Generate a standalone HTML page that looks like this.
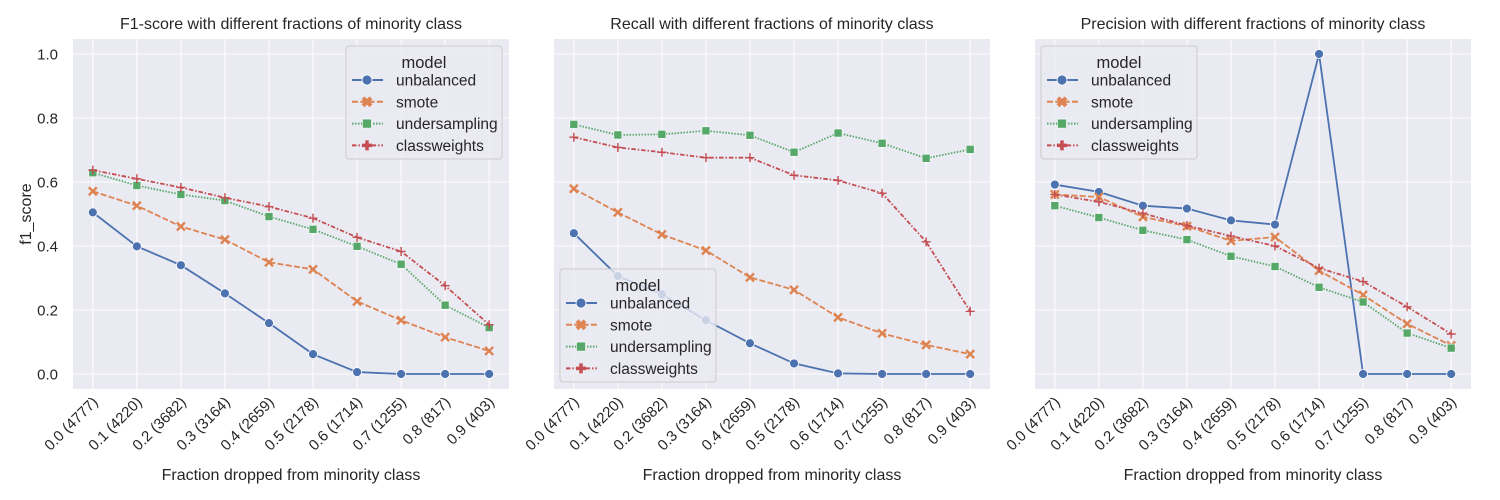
<!DOCTYPE html>
<html><head><meta charset="utf-8"><style>
body{margin:0;background:#fff;}
svg{display:block;font-family:"Liberation Sans","DejaVu Sans",sans-serif;}
</style></head><body>
<svg id="fig" width="1500" height="500" viewBox="0 0 1500 500" xmlns="http://www.w3.org/2000/svg"></svg>
<script>
const categories=["0.0 (4777)","0.1 (4220)","0.2 (3682)","0.3 (3164)","0.4 (2659)","0.5 (2178)","0.6 (1714)","0.7 (1255)","0.8 (817)","0.9 (403)"];
const yTicks=[0.0,0.2,0.4,0.6,0.8,1.0];
const modelNames=["unbalanced","smote","undersampling","classweights"];
const f1Unbalanced=[0.505,0.399,0.34,0.252,0.159,0.062,0.006,0,0,0];
const f1Smote=[0.571,0.526,0.461,0.42,0.349,0.327,0.227,0.168,0.115,0.072];
const f1Under=[0.629,0.589,0.561,0.542,0.492,0.452,0.399,0.343,0.215,0.145];
const f1Class=[0.637,0.61,0.583,0.551,0.523,0.487,0.427,0.383,0.276,0.154];
const recUnbalanced=[0.44,0.306,0.249,0.168,0.096,0.033,0.002,0,0,0];
const recSmote=[0.579,0.505,0.436,0.386,0.302,0.263,0.177,0.127,0.091,0.062];
const recUnder=[0.78,0.747,0.749,0.76,0.746,0.693,0.753,0.721,0.674,0.702];
const recClass=[0.74,0.708,0.693,0.676,0.676,0.621,0.605,0.565,0.413,0.196];
const precUnbalanced=[0.592,0.569,0.526,0.517,0.48,0.467,1.0,0,0,0];
const precSmote=[0.561,0.553,0.491,0.462,0.416,0.428,0.323,0.247,0.157,0.089];
const precUnder=[0.526,0.489,0.449,0.42,0.368,0.336,0.271,0.225,0.128,0.081];
const precClass=[0.561,0.538,0.502,0.464,0.431,0.4,0.331,0.289,0.21,0.125];

const NS="http://www.w3.org/2000/svg";
const svg=document.getElementById('fig');
const colors=["#4c72b0","#dd8452","#55a868","#c44e52"];
const dashes=["","6,2.3","1.5,1.5","4.5,1.9,1.5,1.9"];
function mk(tag,attrs,parent){const e=document.createElementNS(NS,tag);for(const k in attrs)e.setAttribute(k,attrs[k]);(parent||svg).appendChild(e);return e;}

const plotTop=39,plotBottom=389;
function yScale(v){return 374-(v)*320;}
function marker(g,kind,x,y,col,legend){
  if(kind===0){return mk('circle',{cx:x,cy:y,r:legend?5:4.5,fill:col,stroke:'#fff','stroke-width':0.8},g);}
  if(kind===1){const s=4;return mk('path',{d:`M${x-s},${y-s}L${x+s},${y+s}M${x-s},${y+s}L${x+s},${y-s}`,stroke:col,'stroke-width':legend?4:2.4,fill:'none'},g);}
  if(kind===2){const s=legend?4.5:4;return mk('rect',{x:x-s,y:y-s,width:2*s,height:2*s,fill:col,stroke:'#fff','stroke-width':0.6},g);}
  const s=legend?5:4.5;return mk('path',{d:`M${x-s},${y}L${x+s},${y}M${x},${y-s}L${x},${y+s}`,stroke:col,'stroke-width':legend?3.5:1.4,fill:'none'},g);
}
function legend(px,py,w,h,g){
  const lg=mk('g',{},g);
  
  
  mk('rect',{x:px,y:py,width:w,height:h,rx:3,fill:'#eaeaf2','fill-opacity':0.8,stroke:'#cccccc','stroke-width':1},lg);
  const t=mk('text',{x:px+78,y:py+22,'font-size':16.5,fill:'#262626','text-anchor':'middle'},lg);t.textContent='model';
  for(let i=0;i<4;i++){
    const e=mk('g',{},lg);
    
    
    const yy=py+34+i*21.8;
    mk('line',{x1:px+6,x2:px+37,y1:yy,y2:yy,stroke:colors[i],'stroke-width':2,'stroke-dasharray':dashes[i]},e);
    marker(e,i,px+21,yy,colors[i],true);
    const tx=mk('text',{x:px+50,y:yy+5.5,'font-size':15.5,fill:'#262626'},e);tx.textContent=modelNames[i];
  }
}
function panel(x0,title,series,leg,showY){
  const g=mk('g',{});
  
  
  const W=436;
  const step=W/9.9;
  const xScale=i=>x0+step*(0.45+i);
  mk('rect',{x:x0,y:plotTop,width:W,height:plotBottom-plotTop,fill:'#eaeaf2'},g);
  yTicks.forEach(v=>{mk('line',{x1:x0,x2:x0+W,y1:yScale(v),y2:yScale(v),stroke:'#fff','stroke-width':1},g);
    if(showY){const t=mk('text',{x:x0-15,y:yScale(v)+5.5,'font-size':15,fill:'#262626','text-anchor':'end'},g);t.textContent=v.toFixed(1);}});
  categories.forEach((c,i)=>{const x=xScale(i);mk('line',{x1:x,x2:x,y1:plotTop,y2:plotBottom,stroke:'#fff','stroke-width':1},g);
    const ax=x+6, ay=plotBottom+14;
    const t=mk('text',{x:ax,y:ay,'font-size':15,fill:'#262626','text-anchor':'end',transform:`rotate(-45 ${ax} ${ay})`},g);t.textContent=c;});
  series.forEach((vals,si)=>{
    const sg=mk('g',{},g);
    
    
    const d=vals.map((v,i)=>(i?'L':'M')+xScale(i)+','+yScale(v)).join('');
    mk('path',{d:d,fill:'none',stroke:colors[si],'stroke-width':1.8,'stroke-dasharray':dashes[si]},sg);
    vals.forEach((v,i)=>marker(sg,si,xScale(i),yScale(v),colors[si],false));
  });
  const tt=mk('text',{x:x0+W/2,y:29,'font-size':16,fill:'#262626','text-anchor':'middle'},g);tt.textContent=title;
  
  
  const xl=mk('text',{x:x0+W/2,y:480,'font-size':16,fill:'#262626','text-anchor':'middle'},g);xl.textContent='Fraction dropped from minority class';
  
  
  if(showY){const yl=mk('text',{x:31,y:214,'font-size':16,fill:'#262626','text-anchor':'middle',transform:'rotate(-90 31 214)'},g);yl.textContent='f1_score';
    
    }
  legend(leg[0],leg[1],156,113,g);
}
panel(73,'F1-score with different fractions of minority class',[f1Unbalanced,f1Smote,f1Under,f1Class],[346,46],true);
panel(554,'Recall with different fractions of minority class',[recUnbalanced,recSmote,recUnder,recClass],[560,269],false);
panel(1035,'Precision with different fractions of minority class',[precUnbalanced,precSmote,precUnder,precClass],[1041,46],false);
</script>
</body></html>
